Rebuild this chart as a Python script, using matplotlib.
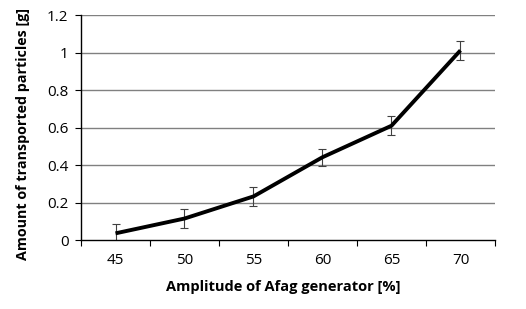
import matplotlib.pyplot as plt

# данные с графика
amplitude = ["45", "50", "55", "60", "65", "70"]
mass = [0.036, 0.115, 0.233, 0.442, 0.610, 1.012]
mass_err = [0.05, 0.052, 0.05, 0.046, 0.05, 0.05]
y_ticks = [0, 0.2, 0.4, 0.6, 0.8, 1, 1.2]
y_tick_labels = ["0", "0.2", "0.4", "0.6", "0.8", "1", "1.2"]

plt.rcParams['font.family'] = ['Open Sans', 'DejaVu Sans']

fig = plt.figure(figsize=(5.26, 3.09), dpi=100)
ax = fig.add_axes([0.154, 0.223, 0.787, 0.728])

x = list(range(len(amplitude)))

# сетка по оси Y
for t in y_ticks[1:]:
    ax.axhline(t, color='#808080', lw=1.0, zorder=1)

ax.errorbar(x, mass, yerr=mass_err, fmt='none', ecolor='#404040',
            elinewidth=0.8, capsize=3, capthick=0.8, zorder=2)
ax.plot(x, mass, color='black', lw=2.8, solid_capstyle='butt', zorder=3)

ax.set_xlim(-0.5, len(amplitude) - 0.5)
ax.set_ylim(0, 1.2)

ax.set_xticks(x)
ax.set_xticklabels(amplitude, fontsize=11)
ax.set_xticks([i - 0.5 for i in range(len(amplitude) + 1)], minor=True)
ax.tick_params(axis='x', which='major', length=0, pad=9)
ax.tick_params(axis='x', which='minor', length=4, direction='out', width=0.8)

ax.set_yticks(y_ticks)
ax.set_yticklabels(y_tick_labels, fontsize=11)
ax.tick_params(axis='y', length=4, direction='out', width=0.8, pad=5)

for side in ['top', 'right']:
    ax.spines[side].set_visible(False)
ax.spines['left'].set_linewidth(1.0)
ax.spines['bottom'].set_linewidth(1.0)

# подписи осей - по положению как в оригинале
fig.text(283 / 526, 1 - 287 / 309, "Amplitude of Afag generator [%]",
         fontsize=10.5, fontweight='bold', ha='center', va='center')
fig.text(23 / 526, 1 - 134 / 309, "Amount of transported particles [g]",
         fontsize=10.3, fontweight='bold', ha='center', va='center', rotation=90)

fig.savefig("out.png", dpi=100)
